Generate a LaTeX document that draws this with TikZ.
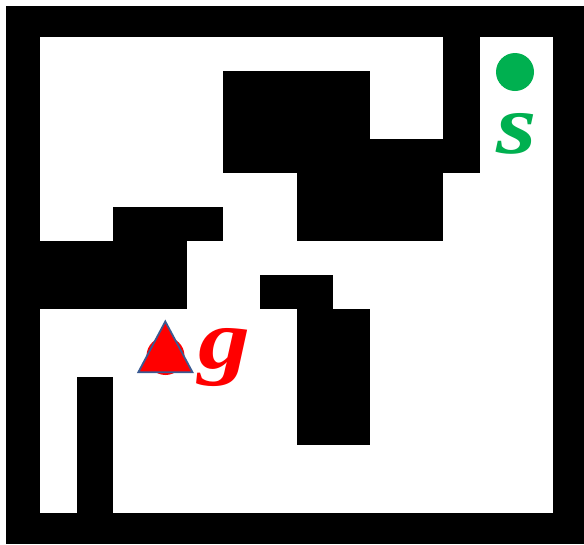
\documentclass[tikz,border=0pt]{standalone}
\usepackage{fontspec}
\usepackage{graphicx}
\newfontfamily\letterfont{Liberation Serif}
\definecolor{sgreen}{HTML}{00B050}
\definecolor{gred}{HTML}{FF0000}
\definecolor{tblue}{HTML}{3A5A92}
\newcommand{\wideletter}[1]{\scalebox{1.22}[1]{#1}}
\tikzset{
  wall/.style={fill=black, draw=none},
  marker/.style={circle, inner sep=0pt, minimum size=38pt, draw=none},
  letter/.style={inner sep=0pt, anchor=base, font=\letterfont\fontsize{85}{85}\selectfont\bfseries\itshape}
}
\begin{document}
\begin{tikzpicture}[x=1pt, y=-1pt]
\useasboundingbox (0,0) rectangle (584,544);
\fill[white] (0,0) rectangle (584,544);
% outer wall
\fill[black] (6,6) rectangle (584,544);
\fill[white] (40,36.7) rectangle (553.2,513);
% inner walls
\fill[wall] (223.3,70.7) rectangle (370,138.8);
\fill[wall] (223.3,138.8) rectangle (479.9,172.8);
\fill[wall] (443.3,30) rectangle (479.9,172.8);
\fill[wall] (296.6,172.8) rectangle (443.3,240.8);
\fill[wall] (113.3,206.8) rectangle (223.3,240.8);
\fill[wall] (30,240.8) rectangle (186.6,308.9);
\fill[wall] (260,274.8) rectangle (333.3,308.9);
\fill[wall] (296.6,308.9) rectangle (370,444.9);
\fill[wall] (76.7,376.9) rectangle (113.3,520);
% start
\node[marker, fill=sgreen] (start) at (515,72) {};
\node[letter, text=sgreen] (slabel) at (517,153) {\wideletter{s}};
% goal
\node[marker, fill=gred] (goalc) at (165.5,356) {};
\draw[fill=gred, draw=tblue, line width=1.8pt, line join=miter] (165.3,321.5) -- (192.5,372.3) -- (138.3,372.3) -- cycle;
\node[letter, text=gred] (glabel) at (224,368) {\wideletter{g}};
\end{tikzpicture}
\end{document}
